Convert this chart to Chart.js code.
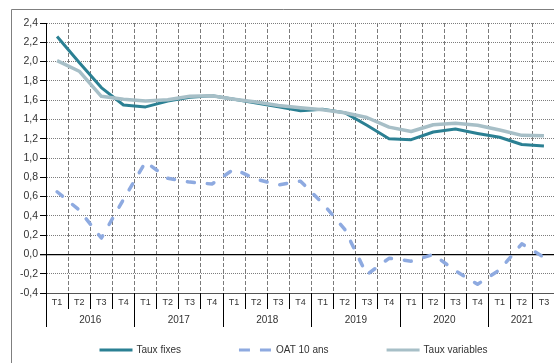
<!DOCTYPE html>
<html>
<head>
<meta charset="utf-8">
<script src="https://cdn.jsdelivr.net/npm/chart.js@4.4.1/dist/chart.umd.min.js"></script>
<style>
  html, body { margin: 0; padding: 0; background: #fff; overflow: hidden; width: 554px; height: 363px; }
  #wrap { position: absolute; left: 0; top: 0; width: 556px; height: 363px; }
</style>
</head>
<body>
<div id="wrap"><canvas id="c" width="556" height="363"></canvas></div>
<script>
// Quarterly rates, 2016 T1 to 2021 T3 (%)
const quarters = [
  'T1','T2','T3','T4',
  'T1','T2','T3','T4',
  'T1','T2','T3','T4',
  'T1','T2','T3','T4',
  'T1','T2','T3','T4',
  'T1','T2','T3'
];
const years = ['2016','2017','2018','2019','2020','2021'];

const tauxFixes = [2.26, 1.99, 1.73, 1.55, 1.53, 1.59, 1.63, 1.645, 1.61, 1.57, 1.53, 1.49,
                   1.505, 1.47, 1.34, 1.20, 1.19, 1.27, 1.30, 1.255, 1.215, 1.14, 1.125];
const oat10ans = [0.65, 0.46, 0.17, 0.57, 0.96, 0.79, 0.75, 0.73, 0.885, 0.78, 0.72, 0.76,
                  0.53, 0.26, -0.21, -0.04, -0.07, 0.0, -0.17, -0.31, -0.16, 0.11, -0.03];
const tauxVariables = [2.01, 1.90, 1.64, 1.61, 1.59, 1.605, 1.64, 1.645, 1.61, 1.58, 1.545, 1.52,
                       1.50, 1.47, 1.42, 1.32, 1.275, 1.345, 1.36, 1.34, 1.29, 1.235, 1.23];

const FONT = "'Liberation Sans', Arial, Helvetica, sans-serif";
const TEXT = '#333333';
const isZero = v => Math.abs(v) < 1e-9;
const fmt = v => isZero(v) ? '0,0' : Number(v).toFixed(1).replace('.', ',');

// Frame, two-level category axis (quarters / years) and legend
const decor = {
  id: 'decor',
  beforeDraw(chart) {
    const c = chart.ctx;
    c.save();
    c.fillStyle = '#fff';
    c.fillRect(0, 0, chart.width, chart.height);
    c.strokeStyle = '#7f7f7f';
    c.lineWidth = 1;
    c.beginPath();
    c.moveTo(11.5, chart.height);
    c.lineTo(11.5, 9.5);
    c.lineTo(chart.width, 9.5);
    c.stroke();
    c.restore();
  },
  afterDraw(chart) {
    const c = chart.ctx, xs = chart.scales.x, a = chart.chartArea;
    const align = p => Math.round(p - 0.5) + 0.5;
    const edge = k => xs.getPixelForValue(k - 0.5);

    // separators below the axis
    c.save();
    c.strokeStyle = '#000';
    c.lineWidth = 1;
    for (let k = 0; k <= quarters.length; k++) {
      const yearEdge = k === quarters.length || quarters[k] === 'T1';
      const x = align(edge(k));
      c.beginPath();
      c.moveTo(x, a.bottom);
      c.lineTo(x, a.bottom + (yearEdge ? 34 : 16));
      c.stroke();
    }

    // year labels centred on their quarters
    c.fillStyle = TEXT;
    c.font = '10px ' + FONT;
    c.textAlign = 'center';
    c.textBaseline = 'middle';
    let start = 0, yi = 0;
    for (let k = 1; k <= quarters.length; k++) {
      if (k === quarters.length || quarters[k] === 'T1') {
        const cx = (edge(start) + edge(k)) / 2;
        c.fillText(years[yi], cx, a.bottom + 27);
        start = k; yi++;
      }
    }

    // legend
    const ds = chart.data.datasets;
    const legendOrder = [0, 1, 2];
    const lineLen = 33, textGap = 4, itemGap = 58, ly = 350;
    c.font = '10px ' + FONT;
    c.textAlign = 'left';
    const widths = legendOrder.map(i => lineLen + textGap + c.measureText(ds[i].label).width);
    const total = widths.reduce((s, w) => s + w, 0) + itemGap * (widths.length - 1);
    let lx = 293.5 - total / 2;
    legendOrder.forEach((i, n) => {
      const d = ds[i];
      c.save();
      c.strokeStyle = d.borderColor;
      c.lineWidth = 3;
      c.lineCap = 'butt';
      c.setLineDash(d.borderDash ? [11, 10] : []);
      c.beginPath();
      c.moveTo(lx, ly);
      c.lineTo(lx + lineLen, ly);
      c.stroke();
      c.restore();
      c.fillStyle = TEXT;
      c.fillText(d.label, lx + lineLen + textGap, ly + 0.5);
      lx += widths[n] + itemGap;
    });
    c.restore();
  }
};

new Chart(document.getElementById('c'), {
  type: 'line',
  data: {
    labels: quarters,
    datasets: [
      { label: 'Taux fixes', data: tauxFixes, borderColor: '#2b8093', borderWidth: 3, order: 1 },
      { label: 'OAT 10 ans', data: oat10ans, borderColor: '#8eaae0', borderWidth: 3.5,
        borderDash: [7, 13], borderCapStyle: 'round', order: 2 },
      { label: 'Taux variables', data: tauxVariables, borderColor: '#a7bfc7', borderWidth: 3.5, order: 0 }
    ]
  },
  options: {
    responsive: false,
    animation: false,
    devicePixelRatio: 1,
    layout: { padding: { left: 0, top: 23, right: 1, bottom: 0 } },
    elements: {
      point: { radius: 0 },
      line: { tension: 0, borderJoinStyle: 'round' }
    },
    plugins: { legend: { display: false }, tooltip: { enabled: false } },
    scales: {
      x: {
        offset: true,
        grid: { offset: true, color: '#7a7a7a', lineWidth: 1, drawTicks: false },
        border: { display: true, color: '#555', width: 1, dash: [4, 2] },
        ticks: { font: { family: FONT, size: 9 }, color: TEXT, padding: 4, autoSkip: false, maxRotation: 0 },
        afterFit(s) { s.height = 70; }
      },
      y: {
        min: -0.4,
        max: 2.4,
        ticks: { stepSize: 0.2, font: { family: FONT, size: 10.5 }, color: TEXT, padding: 2, callback: fmt },
        grid: {
          color: ctx => (ctx.tick && isZero(ctx.tick.value)) ? '#000' : '#7d7d7d',
          lineWidth: ctx => (ctx.tick && isZero(ctx.tick.value)) ? 1.3 : 1,
          tickColor: '#000',
          tickLength: 6
        },
        border: {
          display: true, color: '#000', width: 1,
          dash: ctx => (ctx.tick && isZero(ctx.tick.value)) ? [] : [1, 1]
        },
        afterFit(s) { s.width = 46; }
      }
    }
  },
  plugins: [decor]
});
</script>
</body>
</html>
